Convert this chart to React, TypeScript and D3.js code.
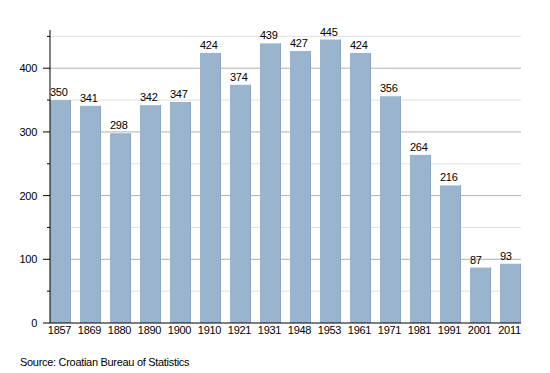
import React from 'react';
import * as d3 from 'd3';

const years = ['1857', '1869', '1880', '1890', '1900', '1910', '1921', '1931', '1948', '1953', '1961', '1971', '1981', '1991', '2001', '2011'];
const population = [350, 341, 298, 342, 347, 424, 374, 439, 427, 445, 424, 356, 264, 216, 87, 93];
const majorTicks = [0, 100, 200, 300, 400];
const minorTicks = [50, 150, 250, 350, 450];

const App: React.FC = () => {
  const width = 550;
  const height = 373;
  const left = 50;
  const right = 521;
  const top = 30;
  const bottom = 323;

  const y = d3.scaleLinear().domain([0, 460]).range([bottom, top]);
  // step 30, bar width 21, first bar on the axis
  const x = d3.scaleBand<string>().domain(years).range([left, right]).paddingInner(0.3).paddingOuter(0);
  const bw = x.bandwidth();

  const font = 'Liberation Sans, Arial, sans-serif';

  return (
    <svg width={width} height={height} style={{ position: 'absolute', left: 0, top: 0 }} fontFamily={font} letterSpacing={-0.3}>
      <rect width={width} height={height} fill="#fff" />
      {minorTicks.map(t => (
        <line key={'m' + t} x1={left} x2={right} y1={y(t)} y2={y(t)} stroke="#e0e0e0" strokeWidth={1} />
      ))}
      {majorTicks.filter(t => t > 0).map(t => (
        <line key={'g' + t} x1={left} x2={right} y1={y(t)} y2={y(t)} stroke="#b0b0b0" strokeWidth={1} />
      ))}
      {years.map((yr, i) => {
        const bx = x(yr) as number;
        return (
          <g key={yr}>
            <rect x={bx} y={y(population[i])} width={bw} height={bottom - y(population[i])} fill="#9bb4ce" />
            <line x1={bx + bw - 0.5} x2={bx + bw - 0.5} y1={y(population[i])} y2={bottom} stroke="#8ea6bf" />
            <text x={bx} y={y(population[i]) - 4} fontSize={11} fill="#000">{population[i]}</text>
            <text x={bx + bw / 2 - 1} y={334} fontSize={11} textAnchor="middle" fill="#000">{yr}</text>
          </g>
        );
      })}
      <line x1={left} x2={left} y1={top} y2={bottom} stroke="#000" strokeWidth={1} />
      <line x1={left} x2={right} y1={bottom} y2={bottom} stroke="#000" strokeWidth={1} />
      {majorTicks.map(t => (
        <g key={'t' + t}>
          <line x1={left - 7} x2={left} y1={y(t)} y2={y(t)} stroke="#000" />
          <text x={37} y={y(t) + 4} fontSize={11} textAnchor="end">{t}</text>
        </g>
      ))}
      {minorTicks.map(t => (
        <line key={'mt' + t} x1={left - 3} x2={left} y1={y(t)} y2={y(t)} stroke="#000" />
      ))}
      <text x={20} y={366} fontSize={11}>Source: Croatian Bureau of Statistics</text>
    </svg>
  );
};

export default App;
